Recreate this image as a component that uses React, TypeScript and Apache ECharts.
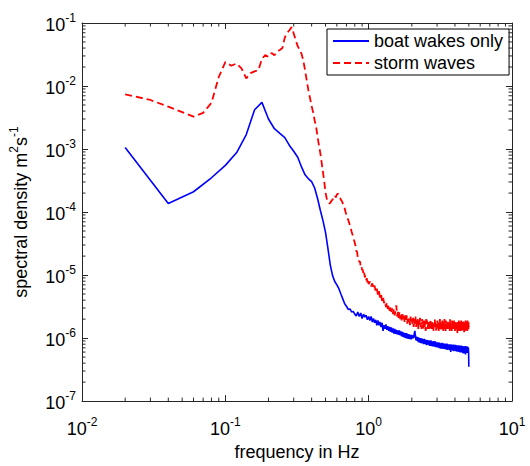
import React, { useEffect, useRef } from "react";
import * as echarts from "echarts";

// frequency grid: blue every 0.02 Hz from 0.02 to 5.00
const BLUE_START = 0.02;
const BLUE_STEP = 0.02;
const blueValues = [
  1.06e-3, 1.37e-4, 2.1e-4, 3.5e-4, 5.5e-4, 8.8e-4, 1.7e-3, 4.2e-3, 5.5e-3, 3.0e-3,
  2.1e-3, 1.77e-3, 1.52e-3, 1.14e-3, 9.2e-4, 7.4e-4, 5.2e-4, 3.9e-4, 3.37e-4, 3.03e-4,
  2.41e-4, 1.64e-4, 1.07e-4, 7.3e-5, 4.77e-5, 2.62e-5, 1.44e-5, 9.8e-6, 7.9e-6, 7.0e-6,
  6.07e-6, 5.0e-6, 4.19e-6, 3.51e-6, 3.2e-6, 2.85e-6, 2.9e-6, 2.6e-6, 2.65e-6, 2.4e-6,
  2.25e-6, 2.6e-6, 2.2e-6, 2.5e-6, 2.05e-6, 2.4e-6, 2.15e-6, 2.3e-6, 1.95e-6, 2.2e-6,
  1.9e-6, 2.2e-6, 1.8e-6, 2.05e-6, 1.75e-6, 1.95e-6, 1.6e-6, 1.9e-6, 1.6e-6, 1.8e-6,
  1.5e-6, 1.75e-6, 1.3e-6, 1.6e-6, 1.4e-6, 1.65e-6, 1.35e-6, 1.55e-6, 1.3e-6, 1.5e-6,
  1.25e-6, 1.48e-6, 1.22e-6, 1.42e-6, 1.18e-6, 1.4e-6, 1.17e-6, 1.35e-6, 1.15e-6, 1.32e-6,
  1.12e-6, 1.32e-6, 1.1e-6, 1.28e-6, 1.06e-6, 1.26e-6, 1.04e-6, 1.22e-6, 1.02e-6, 1.2e-6,
  1.0e-6, 1.2e-6, 0.98e-6, 1.16e-6, 0.97e-6, 1.15e-6, 0.96e-6, 1.13e-6, 0.95e-6, 1.12e-6,
  0.98e-6, 1.1e-6, 1.0e-6, 1.18e-6, 1.3e-6, 1.08e-6, 0.92e-6, 1.06e-6, 0.9e-6, 1.04e-6,
  0.86e-6, 1.02e-6, 0.85e-6, 1.0e-6, 0.84e-6, 0.99e-6, 0.82e-6, 0.98e-6, 0.83e-6, 0.96e-6,
  0.8e-6, 0.97e-6, 0.81e-6, 0.95e-6, 0.79e-6, 0.94e-6, 0.77e-6, 0.93e-6, 0.8e-6, 0.92e-6,
  0.78e-6, 0.92e-6, 0.75e-6, 0.9e-6, 0.76e-6, 0.92e-6, 0.75e-6, 0.89e-6, 0.74e-6, 0.88e-6,
  0.75e-6, 0.9e-6, 0.73e-6, 0.87e-6, 0.74e-6, 0.89e-6, 0.72e-6, 0.86e-6, 0.73e-6, 0.85e-6,
  0.71e-6, 0.86e-6, 0.72e-6, 0.84e-6, 0.69e-6, 0.85e-6, 0.71e-6, 0.83e-6, 0.68e-6, 0.82e-6,
  0.69e-6, 0.84e-6, 0.68e-6, 0.82e-6, 0.7e-6, 0.83e-6, 0.67e-6, 0.81e-6, 0.69e-6, 0.82e-6,
  0.67e-6, 0.81e-6, 0.66e-6, 0.8e-6, 0.68e-6, 0.82e-6, 0.65e-6, 0.79e-6, 0.67e-6, 0.8e-6,
  0.66e-6, 0.8e-6, 0.64e-6, 0.78e-6, 0.66e-6, 0.8e-6, 0.6e-6, 0.77e-6, 0.65e-6, 0.79e-6,
  0.65e-6, 0.78e-6, 0.63e-6, 0.77e-6, 0.65e-6, 0.79e-6, 0.62e-6, 0.76e-6, 0.64e-6, 0.77e-6,
  0.64e-6, 0.78e-6, 0.62e-6, 0.76e-6, 0.64e-6, 0.77e-6, 0.61e-6, 0.75e-6, 0.63e-6, 0.76e-6,
  0.63e-6, 0.77e-6, 0.6e-6, 0.74e-6, 0.63e-6, 0.76e-6, 0.59e-6, 0.73e-6, 0.62e-6, 0.75e-6,
  0.62e-6, 0.76e-6, 0.59e-6, 0.73e-6, 0.61e-6, 0.75e-6, 0.58e-6, 0.72e-6, 0.57e-6, 0.71e-6,
  0.6e-6, 0.74e-6, 0.57e-6, 0.72e-6, 0.61e-6, 0.75e-6, 0.55e-6, 0.71e-6, 0.59e-6, 0.73e-6,
  0.61e-6, 0.74e-6, 0.58e-6, 0.72e-6, 0.6e-6, 0.73e-6, 0.62e-6, 0.7e-6, 0.58e-6, 0.35e-6,
];

// storm waves: every 0.01 Hz from 0.02 to 1.00
const RED_LOW_START = 0.02;
const RED_LOW_STEP = 0.01;
const redLowValues = [
  7.4e-3, 6.0e-3, 4.7e-3, 3.85e-3, 3.27e-3, 3.75e-3, 5.4e-3, 1.39e-2,
  2.4e-2, 2.1e-2, 2.28e-2, 1.88e-2, 1.32e-2, 1.6e-2, 1.71e-2, 1.78e-2, 2.7e-2, 3.1e-2,
  2.9e-2, 3.35e-2, 3.07e-2, 3.54e-2, 3.73e-2, 4.0e-2, 5.9e-2, 7.0e-2, 7.68e-2, 8.6e-2,
  6.8e-2, 5.3e-2, 4.29e-2, 3.73e-2, 3.24e-2, 2.53e-2, 1.78e-2, 1.21e-2, 8.5e-3, 6.4e-3,
  4.8e-3, 3.8e-3, 2.84e-3, 2.23e-3, 1.57e-3, 1.14e-3, 8.6e-4, 6.1e-4, 4.3e-4, 3.02e-4,
  2.03e-4, 1.64e-4, 1.43e-4, 1.37e-4, 1.4e-4, 1.51e-4, 1.57e-4, 1.76e-4, 1.84e-4, 1.71e-4,
  1.9e-4, 1.95e-4, 1.9e-4, 1.71e-4, 1.56e-4, 1.5e-4, 1.37e-4, 1.28e-4, 1.15e-4, 1.0e-4,
  9.0e-5, 8.1e-5, 7.5e-5, 6.8e-5, 6.1e-5, 5.5e-5, 4.9e-5, 4.45e-5, 4.0e-5, 3.6e-5,
  3.25e-5, 2.9e-5, 2.4e-5, 2.35e-5, 1.9e-5, 1.85e-5, 1.6e-5, 1.65e-5, 1.35e-5, 1.4e-5,
  1.2e-5, 1.22e-5, 1.02e-5, 1.1e-5, 9.2e-6, 9.9e-6, 8.3e-6, 8.9e-6, 7.6e-6, 8.4e-6,
  7.2e-6,
];

// storm waves: every 0.02 Hz from 1.02 to 5.00
const RED_HIGH_START = 1.02;
const RED_HIGH_STEP = 0.02;
const redHighValues = [
  7.9e-6, 6.6e-6, 7.4e-6, 6.0e-6, 6.8e-6, 5.4e-6, 6.1e-6, 4.9e-6, 5.6e-6, 4.4e-6,
  5.0e-6, 3.9e-6, 4.5e-6, 3.6e-6, 3.9e-6, 3.1e-6, 3.7e-6, 2.9e-6, 3.4e-6, 2.7e-6,
  3.2e-6, 2.6e-6, 3.0e-6, 2.4e-6, 2.9e-6, 2.3e-6, 2.8e-6, 3.3e-6, 2.2e-6, 2.6e-6,
  2.1e-6, 2.6e-6, 2.0e-6, 2.5e-6, 1.9e-6, 2.4e-6, 2.0e-6, 2.3e-6, 1.8e-6, 2.3e-6,
  1.8e-6, 2.3e-6, 1.7e-6, 2.2e-6, 1.8e-6, 2.1e-6, 1.6e-6, 2.2e-6, 1.7e-6, 2.0e-6,
  1.6e-6, 2.1e-6, 1.5e-6, 2.0e-6, 1.7e-6, 2.2e-6, 1.5e-6, 1.9e-6, 1.6e-6, 2.0e-6,
  1.4e-6, 1.9e-6, 1.6e-6, 2.1e-6, 1.5e-6, 1.8e-6, 1.4e-6, 2.0e-6, 1.6e-6, 1.8e-6,
  1.4e-6, 1.9e-6, 1.5e-6, 1.8e-6, 1.3e-6, 2.0e-6, 1.6e-6, 1.9e-6, 1.4e-6, 1.7e-6,
  1.9e-6, 1.3e-6, 1.8e-6, 1.5e-6, 2.0e-6, 1.4e-6, 1.7e-6, 1.3e-6, 1.9e-6, 1.5e-6,
  1.8e-6, 1.3e-6, 1.7e-6, 1.4e-6, 2.0e-6, 1.5e-6, 1.8e-6, 1.3e-6, 1.7e-6, 1.5e-6,
  1.9e-6, 1.4e-6, 1.7e-6, 1.3e-6, 1.8e-6, 1.5e-6, 2.0e-6, 1.4e-6, 1.6e-6, 1.3e-6,
  1.8e-6, 1.4e-6, 1.9e-6, 1.5e-6, 1.7e-6, 1.3e-6, 1.8e-6, 1.6e-6, 2.0e-6, 1.4e-6,
  1.7e-6, 1.3e-6, 1.9e-6, 1.4e-6, 1.8e-6, 1.5e-6, 1.6e-6, 1.3e-6, 1.9e-6, 1.5e-6,
  1.8e-6, 1.4e-6, 1.7e-6, 1.3e-6, 2.0e-6, 1.5e-6, 1.8e-6, 1.4e-6, 1.6e-6, 1.3e-6,
  1.9e-6, 1.5e-6, 1.7e-6, 1.3e-6, 1.8e-6, 1.4e-6, 1.9e-6, 1.5e-6, 1.7e-6, 1.3e-6,
  1.8e-6, 1.4e-6, 1.6e-6, 1.3e-6, 1.9e-6, 1.5e-6, 1.7e-6, 1.2e-6, 1.8e-6, 1.4e-6,
  1.7e-6, 1.3e-6, 1.9e-6, 1.5e-6, 1.6e-6, 1.3e-6, 1.8e-6, 1.4e-6, 1.7e-6, 1.3e-6,
  1.9e-6, 1.4e-6, 1.6e-6, 1.3e-6, 1.8e-6, 1.5e-6, 1.7e-6, 1.3e-6, 1.9e-6, 1.4e-6,
  1.6e-6, 1.2e-6, 1.8e-6, 1.4e-6, 1.7e-6, 1.3e-6, 1.9e-6, 1.5e-6, 1.6e-6, 1.3e-6,
  1.8e-6, 1.4e-6, 1.7e-6, 1.3e-6, 1.9e-6, 1.4e-6, 1.6e-6, 1.3e-6, 1.8e-6, 1.5e-6,
];

const SERIES_NAMES = ["boat wakes only", "storm waves"];
const X_LABEL = "frequency in Hz";
const X_DECADES = [0.01, 0.1, 1, 10];
const Y_DECADES = [1e-7, 1e-6, 1e-5, 1e-4, 1e-3, 1e-2, 1e-1];
const MINOR_MULTIPLIERS = [2, 3, 4, 5, 6, 7, 8, 9];

const FONT = "'Liberation Sans', Arial, Helvetica, sans-serif";
const AXIS_COLOR = "#262626";

const r2 = (v: number) => Math.round(v * 100) / 100;
const blueData = blueValues.map((v, i) => [r2(BLUE_START + BLUE_STEP * i), v]);
const redData = [
  ...redLowValues.map((v, i) => [r2(RED_LOW_START + RED_LOW_STEP * i), v]),
  ...redHighValues.map((v, i) => [r2(RED_HIGH_START + RED_HIGH_STEP * i), v]),
];

const minorOf = (decades: number[]) => {
  const out: number[] = [];
  for (let i = 0; i < decades.length - 1; i++) {
    for (const m of MINOR_MULTIPLIERS) out.push(m * decades[i]);
  }
  return out;
};
const xMinor = minorOf(X_DECADES);
const yMinor = minorOf(Y_DECADES);

const expLabel = (v: number) => `{b|10}{s|${Math.round(Math.log10(v))}}`;
const labelRich = {
  b: { fontSize: 18, fontFamily: FONT, color: "#000", lineHeight: 22, verticalAlign: "bottom" },
  s: { fontSize: 12, fontFamily: FONT, color: "#000", lineHeight: 12, verticalAlign: "top" },
};

export default function App() {
  const ref = useRef<HTMLDivElement>(null);
  useEffect(() => {
    document.body.style.margin = "0";
    if (!ref.current) return;
    const chart = echarts.init(ref.current, undefined, { renderer: "svg" });
    const xMin = X_DECADES[0];
    const xMax = X_DECADES[X_DECADES.length - 1];
    const yMin = Y_DECADES[0];
    const yMax = Y_DECADES[Y_DECADES.length - 1];
    const baseX = {
      type: "log",
      logBase: 10,
      min: xMin,
      max: xMax,
      splitLine: { show: false },
      axisLine: { show: true, lineStyle: { color: AXIS_COLOR, width: 1 } },
      axisTick: { show: true, inside: true, length: 6, lineStyle: { color: AXIS_COLOR } },
      minorTick: { show: false },
    };
    const baseY = {
      type: "log",
      logBase: 10,
      min: yMin,
      max: yMax,
      splitLine: { show: false },
      axisLine: { show: true, lineStyle: { color: AXIS_COLOR, width: 1 } },
      axisTick: { show: true, inside: true, length: 6, lineStyle: { color: AXIS_COLOR } },
      minorTick: { show: false },
    };
    const option: any = {
      animation: false,
      backgroundColor: "#fff",
      grid: { left: 73, right: 18, top: 23, bottom: 51, containLabel: false },
      legend: {
        orient: "vertical",
        left: 327,
        top: 29,
        data: SERIES_NAMES,
        itemWidth: 36,
        itemHeight: 12,
        itemGap: 4,
        padding: [3, 6, 3, 5],
        borderColor: "#000",
        borderWidth: 1,
        backgroundColor: "#fff",
        itemStyle: { opacity: 0 },
        textStyle: { fontSize: 18, fontFamily: FONT, color: "#000" },
      },
      xAxis: [
        {
          ...baseX,
          position: "bottom",
          name: X_LABEL,
          nameLocation: "middle",
          nameGap: 39,
          nameTextStyle: { fontSize: 18, fontFamily: FONT, color: "#000" },
          axisLabel: { show: true, margin: 15, formatter: expLabel, rich: labelRich },
        },
        { ...baseX, position: "top", axisLabel: { show: false } },
      ],
      yAxis: [
        {
          ...baseY,
          position: "left",
          name: "{n|spectral density m}{s|2}{n|s}{s|-1}",
          nameLocation: "middle",
          nameGap: 52,
          nameRotate: 90,
          nameTextStyle: {
            rich: {
              n: { fontSize: 18, fontFamily: FONT, color: "#000", lineHeight: 22, verticalAlign: "bottom" },
              s: { fontSize: 12, fontFamily: FONT, color: "#000", lineHeight: 12, verticalAlign: "top" },
            },
          },
          axisLabel: { show: true, margin: 6, formatter: expLabel, rich: labelRich },
        },
        { ...baseY, position: "right", axisLabel: { show: false } },
      ],
      series: [
        {
          name: SERIES_NAMES[0],
          type: "line",
          data: blueData,
          showSymbol: false,
          symbol: "none",
          lineStyle: { color: "#0000ff", width: 1.6 },
          itemStyle: { color: "#0000ff" },
          z: 3,
        },
        {
          name: SERIES_NAMES[1],
          type: "line",
          data: redData,
          showSymbol: false,
          symbol: "none",
          lineStyle: { color: "#ff0000", width: 1.8, type: [7, 4] },
          itemStyle: { color: "#ff0000" },
          z: 2,
        },
        {
          type: "custom",
          silent: true,
          data: xMinor.map((v) => [v, 1e-4]),
          renderItem: (params: any, api: any) => {
            const p = api.coord([api.value(0), 1e-4]);
            const cs = params.coordSys;
            const st = { stroke: AXIS_COLOR, lineWidth: 1 };
            return {
              type: "group",
              children: [
                { type: "line", shape: { x1: p[0], y1: cs.y + cs.height, x2: p[0], y2: cs.y + cs.height - 3.5 }, style: st },
                { type: "line", shape: { x1: p[0], y1: cs.y, x2: p[0], y2: cs.y + 3.5 }, style: st },
              ],
            };
          },
          z: 4,
        },
        {
          type: "custom",
          silent: true,
          data: yMinor.map((v) => [1, v]),
          renderItem: (params: any, api: any) => {
            const p = api.coord([1, api.value(1)]);
            const cs = params.coordSys;
            const st = { stroke: AXIS_COLOR, lineWidth: 1 };
            return {
              type: "group",
              children: [
                { type: "line", shape: { x1: cs.x, y1: p[1], x2: cs.x + 3.5, y2: p[1] }, style: st },
                { type: "line", shape: { x1: cs.x + cs.width, y1: p[1], x2: cs.x + cs.width - 3.5, y2: p[1] }, style: st },
              ],
            };
          },
          z: 4,
        },
      ],
    };
    chart.setOption(option);
    return () => chart.dispose();
  }, []);
  return <div ref={ref} style={{ width: 530, height: 466 }} />;
}
